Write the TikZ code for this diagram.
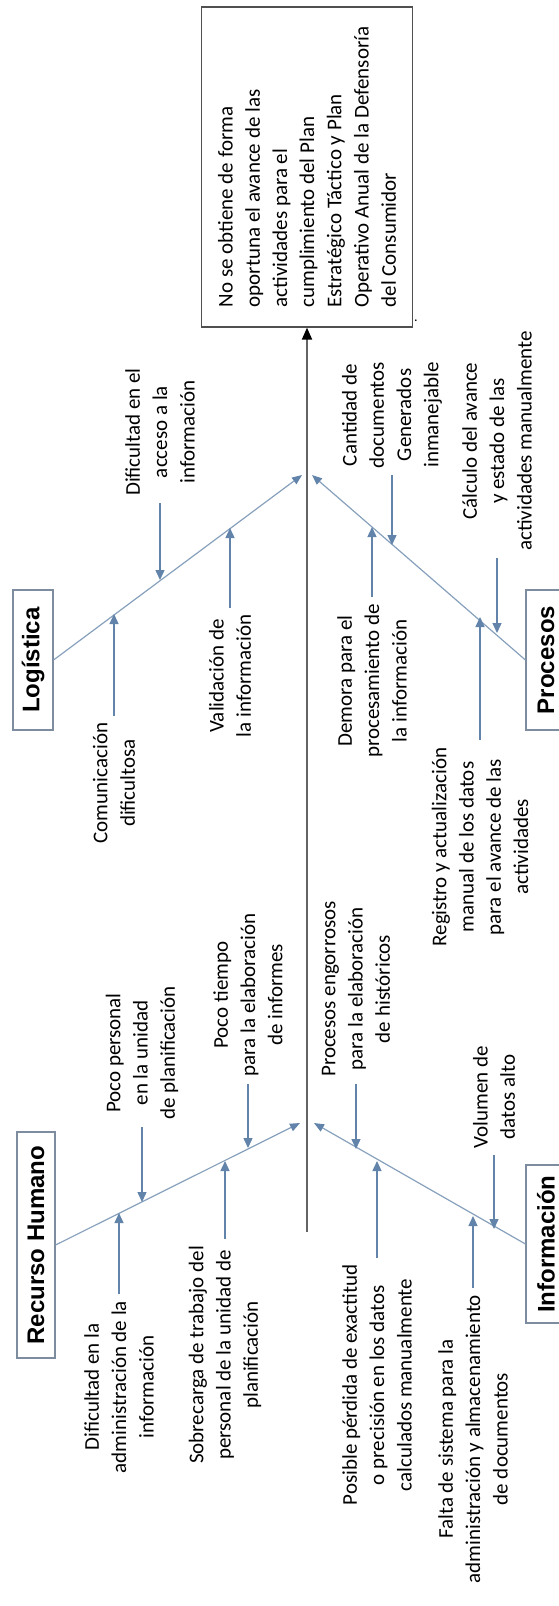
\documentclass[tikz,border=0pt]{standalone}
\usepackage{fontspec}
\setmainfont{Carlito}
\newfontfamily\catfont{Liberation Sans}
\usetikzlibrary{arrows.meta}
\definecolor{spinegray}{RGB}{100,100,100}
\definecolor{bonecol}{RGB}{135,160,188}
\definecolor{causecol}{RGB}{98,132,170}
\definecolor{catframe}{RGB}{125,140,158}
\definecolor{effectframe}{RGB}{80,80,80}
\begin{document}
\begin{tikzpicture}[x=1pt,y=-1pt,
  cause/.style={rotate=90, align=center, font=\fontsize{21}{27.3}\selectfont, inner xsep=7pt, inner ysep=2pt},
  catbox/.style={draw=catframe, line width=1.1pt, rotate=90, font=\catfont\bfseries\fontsize{24}{28}\selectfont, minimum height=40pt, inner sep=0pt},
  bone/.style={draw=bonecol, line width=1.2pt, -{Triangle[length=10pt,width=8pt,color=causecol]}},
  causearrow/.style={draw=causecol, line width=1.4pt, -{Triangle[length=10pt,width=9pt]}},
  spine/.style={draw=spinegray, line width=2pt, -{Triangle[length=12pt,width=10pt,color=black]}}
]
\useasboundingbox (0,0) rectangle (558,1606);

% effect box
\node[draw=effectframe, line width=1.3pt, rotate=90, align=left,
      minimum width=320pt, minimum height=211pt, font=\fontsize{21}{27.2}\selectfont]
  (effect) at (307,167)
  {No se obtiene de forma\\oportuna el avance de las\\actividades para el\\cumplimiento del Plan\\Estratégico Táctico y Plan\\Operativo Anual de la Defensoría\\del Consumidor};
\node[rotate=90, font=\fontsize{14}{16}\selectfont, inner sep=0pt] (dot) at (416,321) {.};

% spine
\coordinate (tail) at (307,1232);
\draw[spine] (tail) -- (effect.west);

% category boxes
\node[catbox, minimum width=140pt] (log) at (33,660) {Logística};
\node[catbox, minimum width=140pt] (proc) at (546,660) {Procesos};
\node[catbox, minimum width=226pt, minimum height=38pt] (rh) at (36,1245) {Recurso Humano};
\node[catbox, minimum width=158pt] (inf) at (546,1244) {Información};

% bones
\coordinate (apexTL) at (302,475);
\coordinate (apexTR) at (312,475);
\coordinate (apexBL) at (300,1123);
\coordinate (apexBR) at (314,1123);
\draw[bone] (log.south) -- (apexTL);
\draw[bone] (proc.north) -- (apexTR);
\draw[bone] (rh.south) -- (apexBL);
\draw[bone] (inf.north) -- (apexBR);

% Logística causes
\node[cause] (L1) at (160,432) {Dificultad en el\\acceso a la\\información};
\node[cause] (L2) at (114,783) {Comunicación\\dificultosa};
\node[cause] (L3) at (230,676) {Validación de\\la información};
\coordinate (l1e) at (160,580);
\coordinate (l2e) at (114,614);
\coordinate (l3e) at (230,528);
\draw[causearrow] (L1.west) -- (L1.west |- l1e);
\draw[causearrow] (L2.east) -- (L2.east |- l2e);
\draw[causearrow] (L3.east) -- (L3.east |- l3e);

% Procesos causes
\node[cause] (P1) at (392,415) {Cantidad de\\documentos\\Generados\\inmanejable};
\node[cause] (P2) at (372,681) {Demora para el\\procesamiento de\\la información};
\node[cause] (P3) at (497,441) {Cálculo del avance\\y estado de las\\actividades manualmente};
\node[cause] (P4) at (480,847) {Registro y actualización\\manual de los datos\\para el avance de las\\actividades};
\coordinate (p1e) at (392,545);
\coordinate (p2e) at (372,527);
\coordinate (p3e) at (497,633);
\coordinate (p4e) at (480,617);
\draw[causearrow] (P1.west) -- (P1.west |- p1e);
\draw[causearrow] (P2.east) -- (P2.east |- p2e);
\draw[causearrow] (P3.west) -- (P3.west |- p3e);
\draw[causearrow] (P4.east) -- (P4.east |- p4e);

% Recurso Humano causes
\node[cause] (R1) at (142,1053) {Poco personal\\en la unidad\\de planificación};
\node[cause] (R2) at (248,995) {Poco tiempo\\para la elaboración\\de informes};
\node[cause] (R3) at (119,1387) {Dificultad en la\\administración de la\\información};
\node[cause] (R4) at (225,1355) {Sobrecarga de trabajo del\\personal de la unidad de\\planificación};
\coordinate (r1e) at (142,1202);
\coordinate (r2e) at (248,1148);
\coordinate (r3e) at (119,1213);
\coordinate (r4e) at (225,1161);
\draw[causearrow] (R1.west) -- (R1.west |- r1e);
\draw[causearrow] (R2.west) -- (R2.west |- r2e);
\draw[causearrow] (R3.east) -- (R3.east |- r3e);
\draw[causearrow] (R4.east) -- (R4.east |- r4e);

% Información causes
\node[cause] (I1) at (356,989) {Procesos engorrosos\\para la elaboración\\de históricos};
\node[cause] (I2) at (494,1097) {Volumen de\\datos alto};
\node[cause] (I3) at (377,1385) {Posible pérdida de exactitud\\o precisión en los datos\\calculados manualmente};
\node[cause] (I4) at (473,1439) {Falta de sistema para la\\administración y almacenamiento\\de documentos};
\coordinate (i1e) at (356,1149);
\coordinate (i2e) at (494,1229);
\coordinate (i3e) at (377,1161);
\coordinate (i4e) at (473,1216);
\draw[causearrow] (I1.west) -- (I1.west |- i1e);
\draw[causearrow] (I2.west) -- (I2.west |- i2e);
\draw[causearrow] (I3.east) -- (I3.east |- i3e);
\draw[causearrow] (I4.east) -- (I4.east |- i4e);
\end{tikzpicture}
\end{document}
